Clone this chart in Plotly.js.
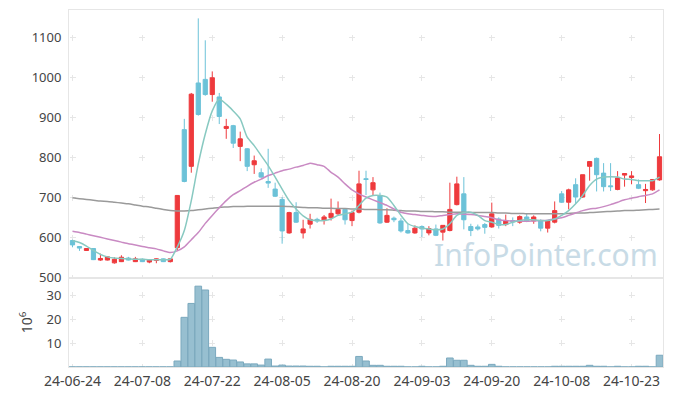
<!DOCTYPE html>
<html>
<head>
<meta charset="utf-8">
<script src="https://cdn.plot.ly/plotly-3.0.1.min.js"></script>
<style>html,body{margin:0;padding:0;background:#fff;}#chart{width:673px;height:396px;}</style>
</head>
<body>
<div id="chart"></div>
<script>
var dates = ["2024-06-24","2024-06-25","2024-06-26","2024-06-27","2024-06-28",
"2024-07-01","2024-07-02","2024-07-03","2024-07-04","2024-07-05",
"2024-07-08","2024-07-09","2024-07-10","2024-07-11","2024-07-12",
"2024-07-15","2024-07-16","2024-07-17","2024-07-18","2024-07-19",
"2024-07-22","2024-07-23","2024-07-24","2024-07-25","2024-07-26",
"2024-07-29","2024-07-30","2024-07-31","2024-08-01","2024-08-02",
"2024-08-05","2024-08-06","2024-08-07","2024-08-08","2024-08-09",
"2024-08-12","2024-08-13","2024-08-14","2024-08-16",
"2024-08-19","2024-08-20","2024-08-21","2024-08-22","2024-08-23",
"2024-08-26","2024-08-27","2024-08-28","2024-08-29","2024-08-30",
"2024-09-02","2024-09-03","2024-09-04","2024-09-05","2024-09-06",
"2024-09-09","2024-09-10","2024-09-11","2024-09-12","2024-09-13",
"2024-09-19","2024-09-20",
"2024-09-23","2024-09-24","2024-09-25","2024-09-26","2024-09-27",
"2024-09-30","2024-10-02","2024-10-04",
"2024-10-07","2024-10-08","2024-10-10","2024-10-11",
"2024-10-14","2024-10-15","2024-10-16","2024-10-17","2024-10-18",
"2024-10-21","2024-10-22","2024-10-23","2024-10-24","2024-10-25",
"2024-10-28","2024-10-29"];

var openP  = [592,577,567,572,543,543,536,539,548,539,545,538,542,546,539,574,870,778,987,996,
958,952,873,880,828,822,782,762,740,721,695,611,662,611,633,645,642,649,659,670,
642,663,747,719,704,638,648,641,617,611,627,611,621,613,617,682,709,627,626,632,
626,646,632,642,638,651,641,642,623,638,709,688,732,701,778,798,761,729,720,756,
750,732,717,719,744];
var highP  = [594,578,573,573,559,552,550,555,551,551,547,544,547,547,547,706,897,962,1149,1094,
1016,962,897,882,865,824,805,773,822,737,701,664,688,644,659,649,656,697,690,672,
667,767,767,751,712,673,652,648,634,630,630,628,632,630,737,752,751,634,632,636,
687,650,657,650,655,660,655,645,643,690,716,722,748,757,790,800,786,786,766,760,
766,745,734,745,859];
var lowP   = [575,566,566,543,541,542,534,538,542,538,538,535,535,538,537,566,738,762,905,955,
940,884,847,824,791,766,759,749,724,701,584,609,636,597,622,636,632,642,655,632,
628,660,706,706,634,636,638,612,609,609,601,605,603,592,615,680,620,603,617,609,
624,622,628,628,634,638,634,615,612,635,686,670,684,699,742,715,715,716,718,727,
733,721,686,717,742];
var closeP = [581,573,572,544,547,551,545,550,543,546,539,543,546,539,546,705,740,959,908,958,
1000,903,878,836,847,778,792,751,736,703,616,662,638,621,645,641,651,660,670,644,
662,734,745,737,636,655,644,616,611,623,621,622,605,630,670,734,644,617,621,625,
659,630,642,639,652,641,651,623,641,667,688,719,701,757,790,757,727,727,749,760,
754,723,720,745,802];

var ma5  = [592,587,578,567,557,551,548,547,546,545,545,544,544,544,545,576,617,692,784,859,
917,946,934,917,897,851,830,805,780,751,721,692,671,654,644,642,642,646,655,659,
663,680,698,705,705,701,680,655,634,627,623,621,619,621,634,655,662,663,655,642,
638,632,632,638,642,644,644,642,642,646,655,667,684,705,730,746,751,752,751,746,
745,742,742,742,751];
var ma20 = [615,612,608,604,600,596,592,588,584,581,577,574,571,566,562,566,576,594,612,635,
655,674,692,707,717,728,738,746,755,761,767,771,776,780,786,782,778,763,751,734,
719,709,701,694,687,680,671,663,659,657,655,653,652,655,657,659,658,657,655,652,
649,644,642,641,641,640,641,642,643,646,649,655,661,667,671,673,677,682,688,694,
698,702,705,709,719];
var ma120 = [699,697,695,693,691,690,688,686,684,681,678,676,673,670,667,666,666,667,669,671,
673,675,676,677,677,678,678,678,678,678,678,677,676,675,674,674,673,673,672,672,
671,671,670,670,669,669,668,667,666,666,665,665,664,664,663,663,663,662,662,662,
662,661,661,660,660,659,659,659,659,659,659,660,661,661,662,663,664,665,666,667,
667,668,669,670,671];

var volume = [0.05,0.05,0.05,0.05,0.05,0.05,0.05,0.05,0.05,0.05,0.05,0.05,0.05,0.05,0.05,
2.5,20.7,26.5,33.7,32.1,8.2,4.0,3.2,2.9,2.1,1.3,1.3,0.8,3.3,0.4,
0.8,0.4,0.4,0.4,0.3,0.3,0.05,0.3,0.3,0.3,0.3,4.4,2.5,0.7,0.7,
0.3,0.3,0.3,0.05,0.05,0.3,0.05,0.05,0.3,3.75,2.8,2.8,0.7,0.3,0.3,
1.1,0.3,0.05,0.05,0.05,0.05,0.05,0.05,0.05,0.3,0.3,0.3,0.3,0.3,0.7,
0.3,0.3,0.05,0.3,0.05,0.05,0.3,0.3,0.05,4.9];

var tickIdx = [0,10,20,30,40,50,60,70,80];
var tickVals = tickIdx.map(function(i){return dates[i];});
var tickText = tickVals.map(function(d){return d.slice(2);});
var priceTicks = [500,600,700,800,900,1000,1100];
var volTicks = [10,20,30];

var upColor = '#ee3a3d', downColor = '#6cc2d8';
var font = {family: 'Noto Sans, sans-serif', size: 13, color: '#444'};
var crossColor = '#e6e6e6';

var traces = [
  {type:'candlestick', x: dates, open: openP, high: highP, low: lowP, close: closeP,
   xaxis:'x', yaxis:'y', whiskerwidth: 0,
   increasing:{line:{color:upColor, width:1}, fillcolor:upColor},
   decreasing:{line:{color:downColor, width:1}, fillcolor:downColor},
   hoverinfo:'skip'},
  {type:'scatter', mode:'lines', x: dates, y: ma120, xaxis:'x', yaxis:'y',
   line:{color:'#9a9a9a', width:1.5, shape:'spline', smoothing:0.6}, hoverinfo:'skip'},
  {type:'scatter', mode:'lines', x: dates, y: ma20, xaxis:'x', yaxis:'y',
   line:{color:'#c98ac3', width:1.5, shape:'spline', smoothing:0.6}, hoverinfo:'skip'},
  {type:'scatter', mode:'lines', x: dates, y: ma5, xaxis:'x', yaxis:'y',
   line:{color:'#88c9c1', width:1.5, shape:'spline', smoothing:0.6}, hoverinfo:'skip'},
  {type:'bar', x: dates, y: volume, xaxis:'x2', yaxis:'y2',
   marker:{color:'#97bfd0', line:{color:'#7ba9be', width:1}}, hoverinfo:'skip'}
];

var hDash = '0px,0.5px,6px,63.38px';
var layout = {
  width: 673, height: 396,
  margin: {l: 69, r: 10, t: 10, b: 29},
  paper_bgcolor: '#fff', plot_bgcolor: '#fff',
  showlegend: false, hovermode: false,
  font: font,
  boxgap: 0.14,
  bargap: 0.05,
  xaxis: {type:'category', categoryorder:'array', categoryarray: dates,
    range:[-0.5, dates.length - 0.5], anchor:'y',
    tickvals: tickVals, ticktext: tickText, showticklabels: false,
    showgrid: true, gridcolor: crossColor, gridwidth: 1, griddash: '0px,25px,6px,9px',
    showline: true, linecolor: '#e6e6e6', mirror: true, zeroline: false,
    rangeslider: {visible: false}, fixedrange: true},
  yaxis: {domain:[0.2493, 1], range:[498, 1170], tickvals: priceTicks,
    showgrid: true, gridcolor: crossColor, gridwidth: 1, griddash: hDash,
    showline: true, linecolor: '#e6e6e6', mirror: true, zeroline: false,
    ticks: '', ticklabelstandoff: 4, tickfont: {family:'Noto Sans, sans-serif', size:13, color:'#444'},
    fixedrange: true},
  xaxis2: {type:'category', categoryorder:'array', categoryarray: dates,
    range:[-0.5, dates.length - 0.5], anchor:'y2', matches:'x',
    tickvals: tickVals, ticktext: tickText,
    tickfont: {family:'Noto Sans, sans-serif', size:14, color:'#444'},
    showgrid: true, gridcolor: crossColor, gridwidth: 1, griddash: '0px,14px,6px,4px',
    showline: true, linecolor: '#e6e6e6', mirror: true, zeroline: false, ticks: '',
    ticklabelstandoff: 1, fixedrange: true},
  yaxis2: {domain:[0, 0.2493], range:[0, 37.1], tickvals: volTicks,
    showgrid: true, gridcolor: crossColor, gridwidth: 1, griddash: hDash,
    showline: true, linecolor: '#e6e6e6', mirror: true, zeroline: false,
    ticks: '', ticklabelstandoff: 4, tickfont: {family:'Noto Sans, sans-serif', size:13, color:'#444'},
    title: {text: '10<sup>6</sup>', font: {family:'Noto Sans, sans-serif', size:14, color:'#444'}, standoff: 10},
    fixedrange: true},
  annotations: [{text: 'InfoPointer.com', xref:'paper', yref:'paper', x: 0.803, y: 0.316,
    xanchor:'center', yanchor:'middle', showarrow:false,
    font:{family:'Noto Sans, sans-serif', size:30, color:'#c8dbe6'}}]
};

Plotly.newPlot('chart', traces, layout, {displayModeBar: false, staticPlot: true});
</script>
</body>
</html>
